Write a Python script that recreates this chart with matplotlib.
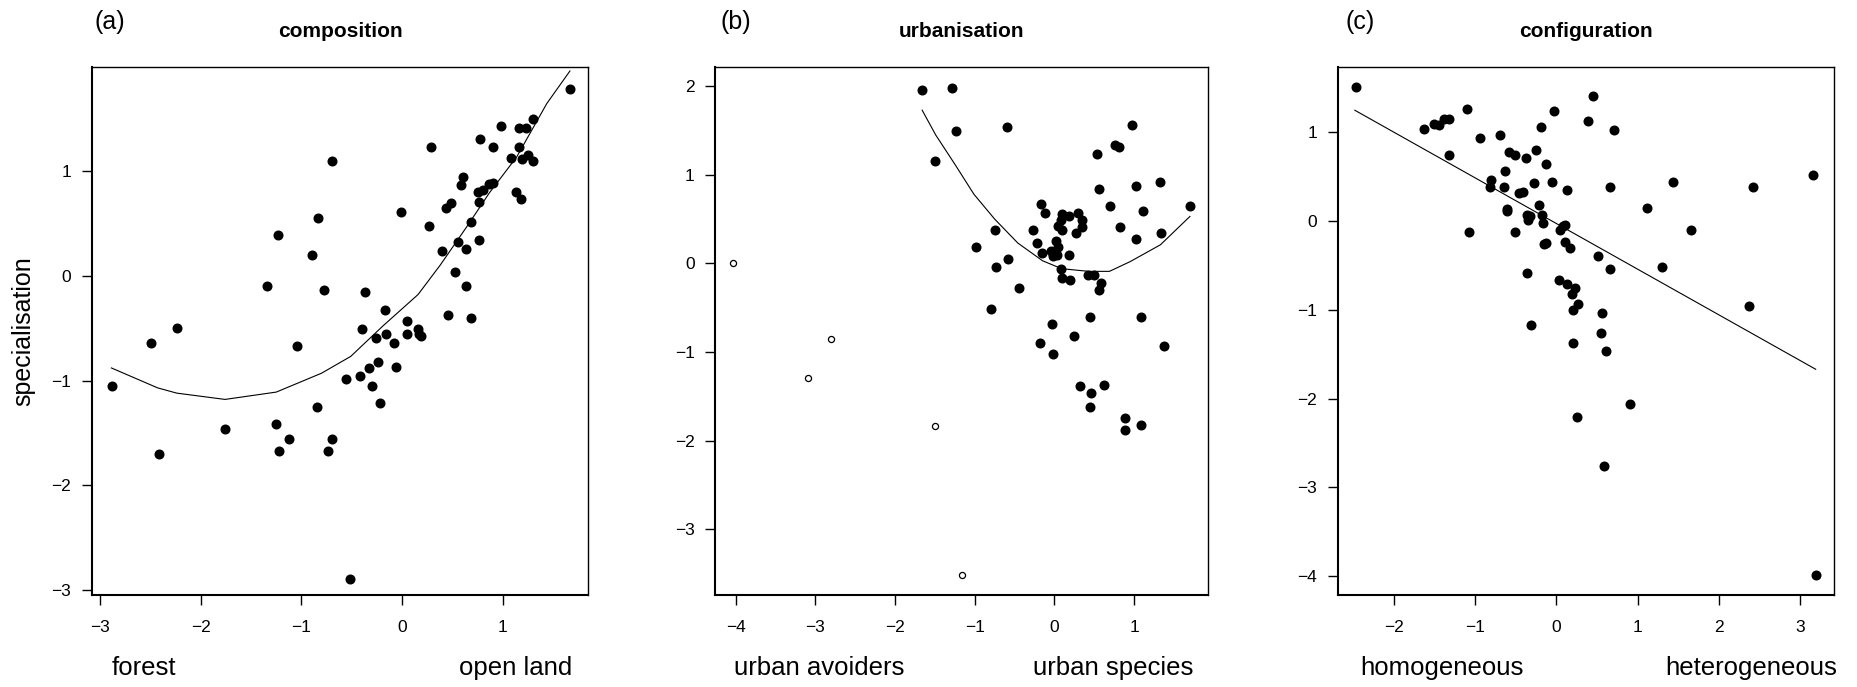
import matplotlib
matplotlib.use("Agg")
import matplotlib.pyplot as plt

plt.rcParams['font.family'] = ['Liberation Sans', 'DejaVu Sans']

# (a) composition
comp_x = [-2.88, -2.50, -2.42, -2.24, -1.76, -1.34, -1.23, -1.25, -1.22, -1.12,
          -1.04, -0.90, -0.84, -0.78, -0.85, -0.70, -0.70, -0.74, -0.56, -0.52,
          -0.42, -0.40, -0.37, -0.33, -0.30, -0.26, -0.24, -0.22, -0.17, -0.16,
          -0.08, -0.06, -0.01, 0.05, 0.05, 0.16, 0.17, 0.19, 0.27, 0.29,
          0.40, 0.44, 0.49, 0.46, 0.53, 0.56, 0.59, 0.61, 0.64, 0.64,
          0.69, 0.69, 0.76, 0.77, 0.77, 0.81, 0.78, 0.87, 0.90, 0.90,
          0.98, 1.08, 1.13, 1.18, 1.16, 1.23, 1.16, 1.19, 1.25, 1.30,
          1.30, 1.67]
comp_y = [-1.05, -0.64, -1.70, -0.50, -1.46, -0.10, 0.39, -1.41, -1.67, -1.56,
          -0.67, 0.20, 0.55, -0.14, -1.25, 1.09, -1.56, -1.67, -0.99, -2.89,
          -0.96, -0.51, -0.16, -0.88, -1.05, -0.59, -0.82, -1.21, -0.33, -0.56,
          -0.64, -0.87, 0.61, -0.43, -0.56, -0.51, -0.56, -0.58, 0.47, 1.23,
          0.23, 0.64, 0.69, -0.38, 0.03, 0.32, 0.86, 0.94, 0.25, -0.10,
          -0.40, 0.51, 0.80, 0.70, 0.34, 0.82, 1.30, 0.87, 1.23, 0.88,
          1.43, 1.12, 0.80, 0.73, 1.41, 1.41, 1.23, 1.11, 1.15, 1.09,
          1.49, 1.78]
fit_a_x = [-2.89, -2.43, -2.24, -1.76, -1.25, -0.80, -0.51, -0.19, 0.16, 0.38,
           0.64, 0.87, 1.14, 1.44, 1.67]
fit_a_y = [-0.88, -1.07, -1.12, -1.18, -1.11, -0.93, -0.77, -0.48, -0.18, 0.10,
           0.46, 0.79, 1.13, 1.64, 1.95]

# (b) urbanisation
urb_x = [-1.66, -1.29, -1.23, -1.50, -0.60, -0.99, -0.75, -0.73, -0.58, -0.44,
         -0.79, -0.27, -0.22, -0.17, -0.12, -0.15, -0.04, -0.02, 0.02, 0.05,
         0.03, 0.04, 0.08, 0.09, 0.10, 0.18, 0.18, 0.08, 0.09, 0.19,
         0.29, 0.34, 0.35, 0.27, 0.42, 0.50, 0.58, 0.56, 0.44, 0.54,
         0.56, 0.70, 0.76, 0.81, 0.82, 0.97, 1.02, 1.02, 1.11, 1.08,
         1.32, 1.34, 1.37, 1.70, -0.03, -0.02, -0.18, 0.24, 0.32, 0.46,
         0.44, 0.62, 0.88, 0.89, 1.09]
urb_y = [1.96, 1.98, 1.50, 1.16, 1.54, 0.18, 0.38, -0.04, 0.05, -0.28,
         -0.52, 0.38, 0.23, 0.67, 0.57, 0.12, 0.14, 0.08, 0.25, 0.19,
         0.10, 0.42, 0.49, 0.56, 0.38, 0.53, 0.10, -0.06, -0.16, -0.19,
         0.57, 0.49, 0.41, 0.34, -0.13, -0.13, -0.22, -0.30, -0.61, 1.23,
         0.84, 0.65, 1.34, 1.31, 0.41, 1.56, 0.87, 0.27, 0.59, -0.61,
         0.92, 0.34, -0.93, 0.65, -0.68, -1.02, -0.90, -0.82, -1.39, -1.46,
         -1.62, -1.37, -1.75, -1.88, -1.83]
urb_out_x = [-4.03, -3.09, -2.81, -1.50, -1.16]
urb_out_y = [0.00, -1.29, -0.85, -1.84, -3.52]
fit_b_x = [-1.66, -1.49, -1.25, -1.01, -0.75, -0.46, -0.15, 0.09, 0.43, 0.69,
           0.95, 1.33, 1.70]
fit_b_y = [1.73, 1.45, 1.12, 0.78, 0.50, 0.23, 0.03, -0.06, -0.09, -0.09,
           0.02, 0.21, 0.53]

# (c) configuration
conf_x = [-2.46, -1.63, -1.50, -1.45, -1.38, -1.32, -1.32, -1.10, -1.08, -0.94,
          -0.81, -0.82, -0.69, -0.65, -0.63, -0.61, -0.61, -0.58, -0.51, -0.51,
          -0.46, -0.41, -0.38, -0.36, -0.35, -0.33, -0.36, -0.31, -0.27, -0.25,
          -0.21, -0.19, -0.18, -0.17, -0.15, -0.13, -0.13, -0.05, -0.03, 0.03,
          0.05, 0.08, 0.10, 0.10, 0.13, 0.13, 0.17, 0.19, 0.21, 0.23,
          0.27, 0.21, 0.25, 0.39, 0.45, 0.51, 0.56, 0.55, 0.61, 0.59,
          0.66, 0.66, 0.71, 0.91, 1.12, 1.30, 1.44, 1.66, 2.37, 2.42,
          3.16, 3.19]
conf_y = [1.51, 1.04, 1.10, 1.08, 1.15, 1.15, 0.75, 1.26, -0.12, 0.94,
          0.46, 0.38, 0.97, 0.38, 0.57, 0.14, 0.11, 0.78, 0.74, -0.12,
          0.32, 0.33, 0.71, 0.07, 0.01, 0.06, -0.59, -1.17, 0.43, 0.80,
          0.18, 1.06, 0.07, -0.02, -0.26, -0.25, 0.64, 0.44, 1.24, -0.66,
          -0.10, -0.06, -0.04, -0.23, 0.35, -0.71, -0.30, -0.82, -1.00, -0.75,
          -0.93, -1.37, -2.21, 1.13, 1.41, -0.39, -1.03, -1.26, -1.46, -2.76,
          0.38, -0.54, 1.03, -2.06, 0.15, -0.52, 0.44, -0.10, -0.96, 0.38,
          0.52, -3.99]
fit_c_x = [-2.48, 3.19]
fit_c_y = [1.25, -1.67]

titles = ['composition', 'urbanisation', 'configuration']
tags = ['(a)', '(b)', '(c)']
low_labels = ['forest', 'urban avoiders', 'homogeneous']
high_labels = ['open land', 'urban species', 'heterogeneous']
xticks = [[-3, -2, -1, 0, 1], [-4, -3, -2, -1, 0, 1], [-2, -1, 0, 1, 2, 3]]
yticks = [[-3, -2, -1, 0, 1], [-3, -2, -1, 0, 1, 2], [-4, -3, -2, -1, 0, 1]]
xlims = [(-3.085, 1.852), (-4.26, 1.93), (-2.69, 3.42)]
ylims = [(-3.04, 1.99), (-3.74, 2.22), (-4.21, 1.74)]

fig = plt.figure(figsize=(18.58, 6.87), dpi=100)
lefts = [0.0494, 0.3848, 0.7200]
widths = [0.2672, 0.2655, 0.2673]
axes = [fig.add_axes([lefts[i], 0.1345, widths[i], 0.7683]) for i in range(3)]

dot = dict(ls='none', marker='o', ms=6.2, color='black', mec='black')
axes[0].plot(comp_x, comp_y, **dot)
axes[0].plot(fit_a_x, fit_a_y, color='black', lw=0.8)
axes[1].plot(urb_x, urb_y, **dot)
axes[1].plot(urb_out_x, urb_out_y, ls='none', marker='o', ms=4.4, mfc='white',
             mec='black', mew=0.9)
axes[1].plot(fit_b_x, fit_b_y, color='black', lw=0.8)
axes[2].plot(conf_x, conf_y, **dot)
axes[2].plot(fit_c_x, fit_c_y, color='black', lw=0.8)

tag_x = [0.005, 0.011, 0.015]
hi_x = [0.967, 0.969, 1.005]
lo_x = [0.040, 0.039, 0.046]
for i, ax in enumerate(axes):
    ax.set_xlim(*xlims[i])
    ax.set_ylim(*ylims[i])
    ax.set_xticks(xticks[i])
    ax.set_yticks(yticks[i])
    ax.tick_params(direction='out', length=7.2, width=1.0, labelsize=12.5)
    ax.tick_params(axis='x', pad=11)
    ax.tick_params(axis='y', pad=7.5)
    for side in ['top', 'right']:
        ax.spines[side].set_linewidth(1.0)
    for side in ['left', 'bottom']:
        ax.spines[side].set_linewidth(1.5)
    ax.text(0.5, 1.0665, titles[i], transform=ax.transAxes, ha='center',
            va='center', fontsize=15, fontweight='bold')
    ax.text(tag_x[i], 1.0855, tags[i], transform=ax.transAxes, ha='left',
            va='center', fontsize=18)
    ax.text(lo_x[i], -0.139, low_labels[i], transform=ax.transAxes, ha='left',
            va='center', fontsize=18.5)
    ax.text(hi_x[i], -0.139, high_labels[i], transform=ax.transAxes, ha='right',
            va='center', fontsize=18.5)

axes[0].text(-0.137, 0.5, 'specialisation', transform=axes[0].transAxes,
             rotation=90, ha='center', va='center', fontsize=18)

fig.savefig('out.png', dpi=100)
